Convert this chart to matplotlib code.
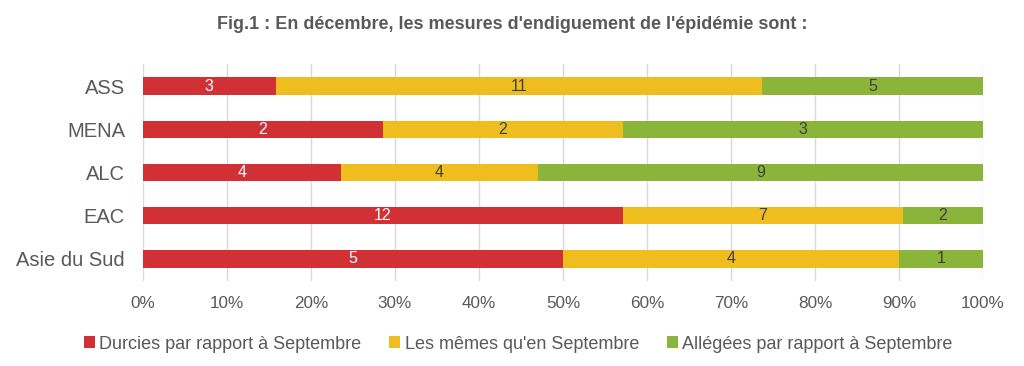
import numpy as np
import matplotlib.pyplot as plt

plt.rcParams['font.family'] = ['Liberation Sans', 'DejaVu Sans']

regions = ['ASS', 'MENA', 'ALC', 'EAC', 'Asie du Sud']
durcies = [3, 2, 4, 12, 5]
memes = [11, 2, 4, 7, 4]
allegees = [5, 3, 9, 2, 1]
series_names = ['Durcies par rapport à Septembre', "Les mêmes qu'en Septembre",
                'Allégées par rapport à Septembre']
colors = ['#D13134', '#F0BD1F', '#8BB43A']
label_colors = ['white', '#404040', '#404040']

counts = np.array([durcies, memes, allegees], dtype=float)
shares = counts / counts.sum(axis=0)

fig = plt.figure(figsize=(10.24, 3.66), dpi=100)
ax = fig.add_axes([0.1396, 0.2333, 0.8204, 0.5907])

y = np.arange(len(regions))
left = np.zeros(len(regions))
for i in range(3):
    ax.barh(y, shares[i], left=left, height=0.4, color=colors[i],
            label=series_names[i], zorder=3)
    for j in range(len(regions)):
        ax.text(left[j] + shares[i][j] / 2, y[j], f'{int(counts[i][j])}',
                ha='center', va='center', color=label_colors[i], fontsize=11.5, zorder=4)
    left += shares[i]

ax.set_xlim(0, 1)
ax.set_ylim(len(regions) - 0.5, -0.5)
ax.set_yticks(y)
ax.set_yticklabels(regions, fontsize=14.5, color='#595959')
ax.set_xticks(np.linspace(0, 1, 11))
ax.set_xticklabels([f'{int(v)}%' for v in np.linspace(0, 100, 11)], fontsize=12.3, color='#595959')
ax.tick_params(axis='y', length=0, pad=13)
ax.tick_params(axis='x', length=0, pad=11)
for s in ax.spines.values():
    s.set_visible(False)
ax.grid(axis='x', color='#D9D9D9', linewidth=1, zorder=0)

fig.suptitle("Fig.1 : En décembre, les mesures d'endiguement de l'épidémie sont :",
             y=0.955, fontsize=13, fontweight='bold', color='#595959')
fig.legend(loc='center', bbox_to_anchor=(0.506, 0.06), ncol=3, frameon=False,
           fontsize=13, handlelength=0.6, handleheight=0.6, handletextpad=0.25,
           columnspacing=1.55, labelcolor='#595959')

fig.savefig('out.png', dpi=100)
